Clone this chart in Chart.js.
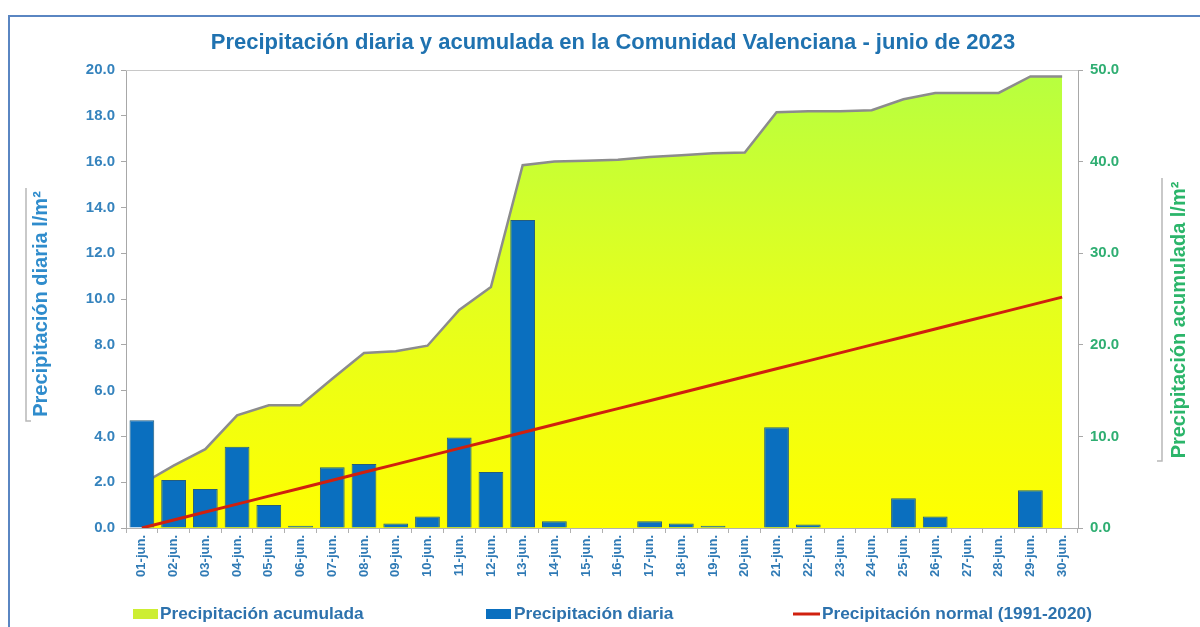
<!DOCTYPE html>
<html lang="es">
<head>
<meta charset="utf-8">
<title>Precipitación diaria y acumulada - junio 2023</title>
<script src="https://cdn.jsdelivr.net/npm/chart.js@4.4.1/dist/chart.umd.min.js"></script>
<style>
  html, body { margin: 0; padding: 0; background: #fff; }
  #wrap { position: relative; width: 1200px; height: 627px; overflow: hidden; }
  #frame { position: absolute; left: 8px; top: 15px; width: 1300px; height: 700px;
           border-left: 2px solid #5a86c2; border-top: 2px solid #5a86c2; }
  canvas { position: absolute; left: 0; top: 0; }
</style>
</head>
<body>
<div id="wrap">
  <div id="frame"></div>
  <canvas id="chart" width="1200" height="627"></canvas>
</div>
<script>
const days = ["01-jun.", "02-jun.", "03-jun.", "04-jun.", "05-jun.", "06-jun.", "07-jun.", "08-jun.", "09-jun.", "10-jun.",
              "11-jun.", "12-jun.", "13-jun.", "14-jun.", "15-jun.", "16-jun.", "17-jun.", "18-jun.", "19-jun.", "20-jun.",
              "21-jun.", "22-jun.", "23-jun.", "24-jun.", "25-jun.", "26-jun.", "27-jun.", "28-jun.", "29-jun.", "30-jun."];

// l/m2 per day (left axis)
const dailyRain = [4.7, 2.1, 1.7, 3.55, 1.0, 0.1, 2.65, 2.8, 0.2, 0.5,
                   3.95, 2.45, 13.45, 0.3, 0, 0, 0.3, 0.2, 0.1, 0,
                   4.4, 0.15, 0, 0, 1.3, 0.5, 0, 0, 1.65, 0];

// accumulated l/m2 (right axis)
const accumulatedRain = [4.8, 6.8, 8.6, 12.3, 13.4, 13.4, 16.3, 19.1, 19.3, 19.9,
                         23.8, 26.3, 39.6, 40.0, 40.1, 40.2, 40.5, 40.7, 40.9, 41.0,
                         45.4, 45.5, 45.5, 45.6, 46.8, 47.5, 47.5, 47.5, 49.3, 49.3];

// normal accumulated 1991-2020 (right axis)
const normalRain = [0.00, 0.87, 1.74, 2.61, 3.48, 4.34, 5.21, 6.08, 6.95, 7.82,
                    8.69, 9.56, 10.43, 11.30, 12.17, 13.03, 13.90, 14.77, 15.64, 16.51,
                    17.38, 18.25, 19.12, 19.99, 20.86, 21.72, 22.59, 23.46, 24.33, 25.20];

const chartTitle = "Precipitación diaria y acumulada en la Comunidad Valenciana - junio de 2023";
const leftTitle = "Precipitación diaria l/m²";
const rightTitle = "Precipitación acumulada l/m²";

const FONT = "'Liberation Sans', Arial, sans-serif";
Chart.defaults.font.family = FONT;

function areaGradient(context) {
    const { chart } = context;
    const a = chart.chartArea;
    if (!a) return '#dcff20';
    const g = chart.ctx.createLinearGradient(0, a.bottom, 0, a.top);
    g.addColorStop(0, '#ffff00');
    g.addColorStop(0.5, '#e4ff1e');
    g.addColorStop(1, '#b6ff40');
    return g;
}

function drawUpText(ctx, text, x, y, color) {
    ctx.save();
    ctx.translate(x, y);
    ctx.rotate(-Math.PI / 2);
    ctx.fillStyle = color;
    ctx.font = "bold 20px " + FONT;
    ctx.textAlign = 'center';
    ctx.textBaseline = 'middle';
    ctx.fillText(text, 0, 0);
    ctx.restore();
}

const extras = {
    id: 'extras',
    afterDraw(chart) {
        const { ctx, chartArea: a } = chart;
        ctx.save();

        // top edge of the plot area
        ctx.strokeStyle = '#c8c8c8';
        ctx.lineWidth = 1;
        ctx.beginPath();
        ctx.moveTo(a.left, a.top + 0.5);
        ctx.lineTo(a.right, a.top + 0.5);
        ctx.stroke();

        // axis titles with their little grey brackets
        ctx.strokeStyle = '#b8b8b8';
        ctx.lineWidth = 1.5;
        ctx.beginPath();
        ctx.moveTo(26, 188); ctx.lineTo(26, 421); ctx.lineTo(31, 421);
        ctx.moveTo(1162, 178); ctx.lineTo(1162, 461); ctx.lineTo(1157, 461);
        ctx.stroke();
        drawUpText(ctx, leftTitle, 41, 304, '#2f8ccc');
        drawUpText(ctx, rightTitle, 1179, 320, '#2bb56a');

        // legend row
        const ds = chart.data.datasets;
        ctx.font = "bold 17.3px " + FONT;
        ctx.textBaseline = 'middle';
        ctx.textAlign = 'left';
        const ly = 614;
        ctx.fillStyle = '#cdee33';
        ctx.fillRect(133, ly - 5, 25, 10);
        ctx.fillStyle = '#0a6fbf';
        ctx.fillRect(486, ly - 5, 25, 10);
        ctx.strokeStyle = '#d0200e';
        ctx.lineWidth = 3;
        ctx.beginPath();
        ctx.moveTo(793, ly); ctx.lineTo(820, ly);
        ctx.stroke();
        ctx.fillStyle = '#2d72ad';
        ctx.fillText(ds[0].label, 160, ly);
        ctx.fillText(ds[1].label, 514, ly);
        ctx.fillText(ds[2].label, 822, ly);

        ctx.restore();
    }
};

const ctx = document.getElementById('chart').getContext('2d');
new Chart(ctx, {
    type: 'bar',
    data: {
        labels: days,
        datasets: [
            {
                type: 'line',
                label: 'Precipitación acumulada',
                data: accumulatedRain,
                yAxisID: 'y2',
                fill: 'origin',
                backgroundColor: areaGradient,
                borderColor: '#8c8c8c',
                borderWidth: 2.5,
                pointRadius: 0,
                tension: 0,
                order: 3
            },
            {
                type: 'bar',
                label: 'Precipitación diaria',
                data: dailyRain,
                yAxisID: 'y',
                backgroundColor: '#0a6fbf',
                borderColor: '#255d7c',
                borderWidth: 1,
                barPercentage: 0.78,
                categoryPercentage: 1,
                order: 2
            },
            {
                type: 'line',
                label: 'Precipitación normal (1991-2020)',
                data: normalRain,
                yAxisID: 'y2',
                fill: false,
                borderColor: '#d0200e',
                borderWidth: 3,
                pointRadius: 0,
                tension: 0,
                order: 1
            }
        ]
    },
    options: {
        responsive: false,
        animation: false,
        layout: { padding: { left: 26, right: 0, top: 0, bottom: 0 } },
        plugins: {
            legend: { display: false },
            tooltip: { enabled: false },
            title: {
                display: true,
                text: chartTitle,
                color: '#1f72b0',
                font: { size: 22, weight: 'bold' },
                padding: { top: 30, bottom: 13.6 }
            }
        },
        scales: {
            x: {
                offset: true,
                grid: { offset: true, drawOnChartArea: false, tickLength: 5, color: '#b0b0b0' },
                border: { color: '#b0b0b0' },
                ticks: {
                    autoSkip: false, minRotation: 90, maxRotation: 90, padding: 2,
                    color: '#2f7ab5', font: { size: 13, weight: 'bold' }
                },
                afterFit(s) { s.height = 99; }
            },
            y: {
                position: 'left',
                min: 0, max: 20,
                grid: { drawOnChartArea: false, tickLength: 5, color: '#a8a8a8' },
                border: { color: '#a8a8a8' },
                ticks: {
                    stepSize: 2, padding: 6, color: '#3583bd',
                    font: { size: 15, weight: 'bold' },
                    callback: v => v.toFixed(1)
                },
                afterFit(s) { s.width = 100; }
            },
            y2: {
                position: 'right',
                min: 0, max: 50,
                grid: { drawOnChartArea: false, tickLength: 5, color: '#a8a8a8' },
                border: { color: '#a8a8a8' },
                ticks: {
                    stepSize: 10, padding: 7, color: '#2fae72',
                    font: { size: 15, weight: 'bold' },
                    callback: v => v.toFixed(1)
                },
                afterFit(s) { s.width = 122; }
            }
        }
    },
    plugins: [extras]
});
</script>
</body>
</html>
